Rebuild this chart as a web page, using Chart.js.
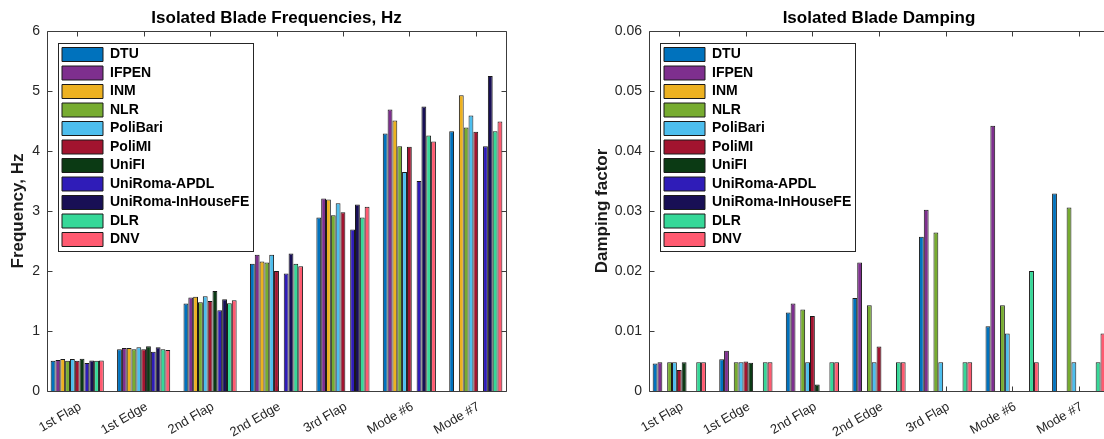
<!DOCTYPE html>
<html>
<head>
<meta charset="utf-8">
<title>Isolated Blade Frequencies and Damping</title>
<script src="https://cdn.jsdelivr.net/npm/chart.js@4.4.1/dist/chart.umd.min.js"></script>
<style>
  html, body { margin: 0; padding: 0; background: #fff; overflow: hidden; width: 1104px; height: 439px; }
  #freqBox { position: absolute; left: 0; top: 0; width: 552px; height: 439px; }
  #dampBox { position: absolute; left: 552px; top: 0; width: 560px; height: 439px; }
</style>
</head>
<body>
<div id="freqBox"><canvas id="chartFreq" width="552" height="439"></canvas></div>
<div id="dampBox"><canvas id="chartDamp" width="560" height="439"></canvas></div>
<script>
// --- categories and partners ---
const modes = ['1st Flap', '1st Edge', '2nd Flap', '2nd Edge', '3rd Flap', 'Mode #6', 'Mode #7'];
const partners = ['DTU', 'IFPEN', 'INM', 'NLR', 'PoliBari', 'PoliMI', 'UniFI', 'UniRoma-APDL', 'UniRoma-InHouseFE', 'DLR', 'DNV'];
const partnerColors = ['#0072bd', '#7e2f8e', '#edb120', '#77ac30', '#4dbeee', '#a2142f', '#0b3a14', '#2f1cb8', '#180f55', '#36d898', '#ff5a70'];

// --- frequencies, Hz (null = no result) ---
const freqDTU      = [0.505, 0.695, 1.46, 2.12, 2.89, 4.29, 4.33];
const freqIFPEN    = [0.517, 0.717, 1.56, 2.27, 3.21, 4.69, null];
const freqINM      = [0.533, 0.717, 1.57, 2.16, 3.19, 4.51, 4.93];
const freqNLR      = [0.505, 0.695, 1.48, 2.14, 2.93, 4.08, 4.39];
const freqPoliBari = [0.533, 0.728, 1.58, 2.27, 3.13, 3.65, 4.59];
const freqPoliMI   = [0.505, 0.695, 1.50, 2.00, 2.98, 4.07, 4.32];
const freqUniFI    = [0.538, 0.745, 1.667, null, null, null, null];
const freqAPDL     = [0.467, 0.655, 1.344, 1.96, 2.69, 3.50, 4.08];
const freqInHouse  = [0.510, 0.728, 1.528, 2.29, 3.11, 4.74, 5.25];
const freqDLR      = [0.505, 0.695, 1.461, 2.12, 2.89, 4.26, 4.33];
const freqDNV      = [0.510, 0.683, 1.511, 2.08, 3.07, 4.16, 4.49];

// --- damping factor ---
const dampDTU      = [0.0046, 0.0053, 0.0131, 0.0155, 0.0257, 0.0108, 0.0329];
const dampIFPEN    = [0.0048, 0.0067, 0.0146, 0.0214, 0.0302, 0.0442, null];
const dampINM      = [null, null, null, null, null, null, null];
const dampNLR      = [0.0048, 0.0048, 0.0136, 0.0143, 0.0264, 0.0143, 0.0306];
const dampPoliBari = [0.0048, 0.0048, 0.0048, 0.0048, 0.0048, 0.0096, 0.0048];
const dampPoliMI   = [0.0035, 0.0049, 0.0125, 0.0074, null, null, null];
const dampUniFI    = [0.0048, 0.0047, 0.0011, null, null, null, null];
const dampAPDL     = [null, null, null, null, null, null, null];
const dampInHouse  = [null, null, null, null, null, null, null];
const dampDLR      = [0.0048, 0.0048, 0.0048, 0.0048, 0.0048, 0.0200, 0.0048];
const dampDNV      = [0.0048, 0.0048, 0.0048, 0.0048, 0.0048, 0.0048, 0.0096];

const freqTicks = [0, 1, 2, 3, 4, 5, 6];
const dampTicks = [0, 0.01, 0.02, 0.03, 0.04, 0.05, 0.06];

const freqSeries = [freqDTU, freqIFPEN, freqINM, freqNLR, freqPoliBari, freqPoliMI, freqUniFI, freqAPDL, freqInHouse, freqDLR, freqDNV];
const dampSeries = [dampDTU, dampIFPEN, dampINM, dampNLR, dampPoliBari, dampPoliMI, dampUniFI, dampAPDL, dampInHouse, dampDLR, dampDNV];

Chart.defaults.font.family = "'Liberation Sans', Arial, sans-serif";
Chart.defaults.color = '#262626';

const AXIS_COLOR = '#3c3c3c';

function makeDatasets(series) {
    return series.map((vals, i) => ({
        label: partners[i],
        data: vals,
        backgroundColor: partnerColors[i],
        borderColor: '#1a1a1a',
        borderWidth: 1,
        categoryPercentage: 0.8,
        barPercentage: 1.0
    }));
}

// matlab-like axes: box, inward ticks, framed legend inside the axes
const matlabAxes = {
    id: 'matlabAxes',
    afterLayout(chart) {
        const lg = chart.legend;
        if (!lg) return;
        // chartArea legends get top = 0 from chart.js, put it at the top-left corner of the axes
        lg.left = chart.chartArea.left + 13.5;
        lg.right = lg.left + lg.width;
        lg.top = chart.chartArea.top + 12;
        lg.bottom = lg.top + lg.height;
    },
    beforeDraw(chart) {
        const lg = chart.legend;
        if (!lg || !lg.legendHitBoxes) return;
        let l = Infinity, t = Infinity, r = -Infinity, b = -Infinity;
        lg.legendHitBoxes.forEach(h => {
            l = Math.min(l, h.left); t = Math.min(t, h.top);
            r = Math.max(r, h.left + h.width); b = Math.max(b, h.top + h.height);
        });
        const ctx = chart.ctx;
        const x0 = Math.round(l - 4) + 0.5, y0 = Math.round(t - 4.5) + 0.5;
        const x1 = Math.round(r + 4) + 0.5, y1 = Math.round(b + 4) + 0.5;
        ctx.save();
        ctx.fillStyle = '#fff';
        ctx.fillRect(x0, y0, x1 - x0, y1 - y0);
        ctx.strokeStyle = '#262626';
        ctx.lineWidth = 1;
        ctx.strokeRect(x0, y0, x1 - x0, y1 - y0);
        ctx.restore();
    },
    beforeDatasetsDraw(chart) {
        const xs = chart.scales.x, ys = chart.scales.y;
        const ctx = chart.ctx;
        const step = xs.getPixelForValue(1) - xs.getPixelForValue(0);
        const left = Math.round(xs.getPixelForValue(0) - 0.45 * step) + 0.5;
        const right = Math.round(xs.getPixelForValue(modes.length - 1) + 0.45 * step) + 0.5;
        const top = Math.round(ys.getPixelForValue(ys.max)) + 0.5;
        const bottom = Math.round(ys.getPixelForValue(ys.min)) + 0.5;
        const tl = 5;
        ctx.save();
        ctx.strokeStyle = AXIS_COLOR;
        ctx.lineWidth = 1;
        ctx.beginPath();
        ctx.rect(left, top, right - left, bottom - top);
        ys.ticks.forEach(tk => {
            const py = Math.round(ys.getPixelForValue(tk.value)) + 0.5;
            ctx.moveTo(left, py); ctx.lineTo(left + tl, py);
            ctx.moveTo(right, py); ctx.lineTo(right - tl, py);
        });
        modes.forEach((m, i) => {
            const px = Math.round(xs.getPixelForValue(i)) + 0.5;
            ctx.moveTo(px, bottom); ctx.lineTo(px, bottom - tl);
            ctx.moveTo(px, top); ctx.lineTo(px, top + tl);
        });
        ctx.stroke();
        ctx.restore();
    }
};

function makeChart(canvasId, series, opts) {
    return new Chart(document.getElementById(canvasId).getContext('2d'), {
        type: 'bar',
        data: { labels: modes, datasets: makeDatasets(series) },
        options: {
            responsive: false,
            animation: false,
            layout: { padding: { left: 0, right: opts.padRight, top: 0, bottom: 0 } },
            plugins: {
                title: {
                    display: true,
                    text: opts.title,
                    fullSize: false,
                    color: '#000',
                    font: { size: 17, weight: 'bold' },
                    padding: { top: 8, bottom: 2.6 }
                },
                legend: {
                    position: 'chartArea',
                    align: 'start',
                    onClick: null,
                    labels: {
                        boxWidth: 41,
                        boxHeight: 14,
                        padding: 4.5,
                        color: '#000',
                        font: { size: 14, weight: 'bold' }
                    }
                },
                tooltip: { enabled: false }
            },
            scales: {
                x: {
                    offset: true,
                    grid: { display: false, drawTicks: false },
                    border: { display: false },
                    ticks: { minRotation: 30, maxRotation: 30, padding: 8, labelOffset: 3, color: '#262626', font: { size: 13 } },
                    afterFit: (s) => { s.height = 48; }
                },
                y: {
                    min: opts.ticks[0],
                    max: opts.ticks[opts.ticks.length - 1],
                    afterBuildTicks: (s) => { s.ticks = opts.ticks.map(v => ({ value: v })); },
                    grid: { display: false, drawTicks: false },
                    border: { display: false },
                    ticks: { padding: 4, color: '#262626', font: { size: 14 } },
                    title: {
                        display: true,
                        text: opts.yTitle,
                        color: '#1a1a1a',
                        font: { size: 17, weight: 'bold' },
                        padding: { top: opts.yTitlePad, bottom: 0 }
                    },
                    afterFit: (s) => { s.width = opts.yWidth; }
                }
            }
        },
        plugins: [matlabAxes]
    });
}

makeChart('chartFreq', freqSeries, {
    title: 'Isolated Blade Frequencies, Hz',
    yTitle: 'Frequency, Hz',
    ticks: freqTicks,
    yWidth: 44,
    yTitlePad: 8,
    padRight: 43
});

makeChart('chartDamp', dampSeries, {
    title: 'Isolated Blade Damping',
    yTitle: 'Damping factor',
    ticks: dampTicks,
    yWidth: 94,
    yTitlePad: 40,
    padRight: 0
});
</script>
</body>
</html>
